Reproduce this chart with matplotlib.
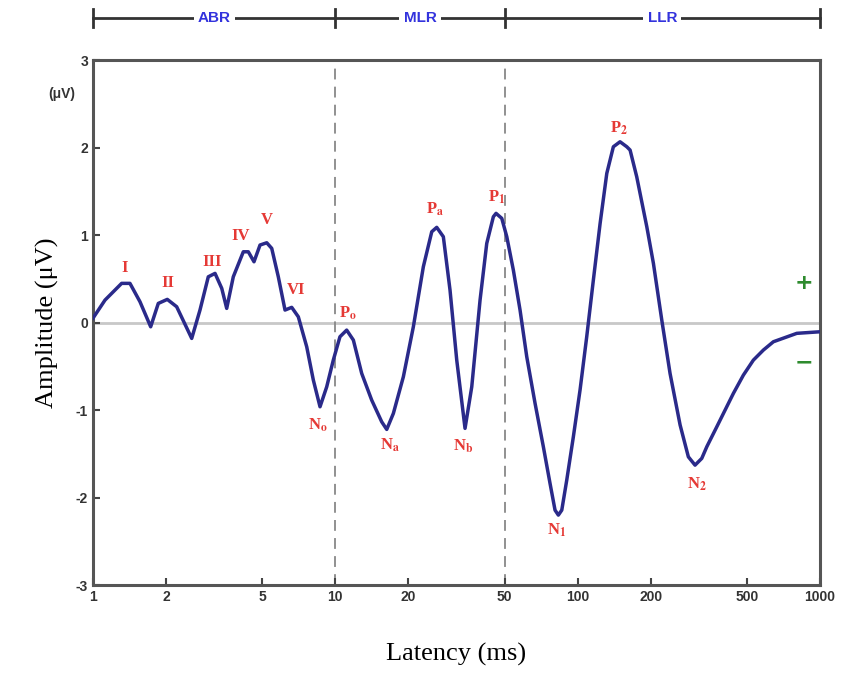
import matplotlib.pyplot as plt
import matplotlib.transforms as mtransforms

plt.rcParams['axes.unicode_minus'] = False
plt.rcParams['mathtext.fontset'] = 'stix'

# waveform: latency (ms) and amplitude (uV)
latency = [1.00, 1.121, 1.313, 1.421, 1.563, 1.730, 1.860, 2.026, 2.215, 2.555,
           2.764, 2.991, 3.189, 3.399, 3.563, 3.793, 4.172, 4.375, 4.618, 4.890,
           5.212, 5.465, 5.818, 6.201, 6.608, 7.036, 7.621, 8.115, 8.647, 9.215,
           9.81, 10.45, 11.14, 11.87, 12.85, 14.13, 15.54, 16.30, 17.36, 19.09,
           20.99, 23.08, 25.0, 26.21, 27.91, 29.74, 31.70, 34.30, 36.56, 39.56,
           42.16, 44.89, 46.05, 48.63, 51.0, 54.28, 57.85, 61.66, 66.72, 72.19,
           76.92, 80.66, 83.25, 86.0, 90.16, 96.0, 102.3, 109.0, 116.1, 123.8,
           131.9, 140.4, 149.6, 159.5, 164.6, 175.3, 192.9, 205.4, 222.4, 240.6,
           264.7, 286.3, 305.1, 325.2, 341.1, 375.1, 439.2, 483.0, 531.0, 584.0,
           642.3, 802.2, 1000.0]
amplitude = [0.05, 0.257, 0.448, 0.448, 0.238, -0.048, 0.219, 0.265, 0.181, -0.181,
             0.143, 0.523, 0.562, 0.391, 0.162, 0.523, 0.809, 0.809, 0.695, 0.886,
             0.912, 0.848, 0.523, 0.143, 0.174, 0.066, -0.277, -0.657, -0.962, -0.734,
             -0.429, -0.162, -0.086, -0.2, -0.581, -0.886, -1.134, -1.221, -1.038, -0.619,
             -0.048, 0.638, 1.038, 1.088, 0.981, 0.371, -0.429, -1.209, -0.734, 0.257,
             0.905, 1.209, 1.248, 1.191, 0.981, 0.6, 0.143, -0.391, -0.923, -1.419,
             -1.838, -2.143, -2.2, -2.143, -1.8, -1.305, -0.771, -0.162, 0.486, 1.134,
             1.705, 2.009, 2.066, 2.009, 1.971, 1.666, 1.095, 0.677, 0.029, -0.581,
             -1.17, -1.534, -1.629, -1.552, -1.419, -1.191, -0.809, -0.6, -0.429, -0.314,
             -0.219, -0.123, -0.105]

# peak names and where their labels sit
peak_names = ['I', 'II', 'III', 'IV', 'V', 'VI', r'P$_\mathbf{o}$', r'N$_\mathbf{o}$',
              r'N$_\mathbf{a}$', r'P$_\mathbf{a}$', r'N$_\mathbf{b}$', r'P$_\mathbf{1}$',
              r'N$_\mathbf{1}$', r'P$_\mathbf{2}$', r'N$_\mathbf{2}$']
peak_lat = [1.355, 2.04, 3.10, 4.08, 5.23, 6.88, 11.3, 8.5, 16.8, 25.8, 33.7, 46.5, 82.2, 148, 312]
peak_amp = [0.62, 0.45, 0.69, 0.99, 1.17, 0.37, 0.11, -1.17, -1.40, 1.30, -1.41, 1.43, -2.37, 2.22, -1.85]

# response bands along the top
bands = ['ABR', 'MLR', 'LLR']
band_edges = [1, 10, 50, 1000]

xticks = [1, 2, 5, 10, 20, 50, 100, 200, 500, 1000]
yticks = [-3, -2, -1, 0, 1, 2, 3]

fig = plt.figure(figsize=(8.43, 6.9), dpi=100)
ax = fig.add_axes([0.1103, 0.152, 0.8624, 0.761])

ax.axhline(0, color='#c8c8c8', lw=2, zorder=1)
for e in band_edges[1:-1]:
    ax.axvline(e, color='#888888', lw=1.3, ls=(0, (6, 4)), zorder=1)

ax.plot(latency, amplitude, color='#2a2a8a', lw=2.5, solid_joinstyle='round', zorder=3)

ax.set_xscale('log')
ax.set_xlim(1, 1000)
ax.set_ylim(-3, 3)
ax.set_xticks(xticks)
ax.set_xticklabels([str(t) for t in xticks])
ax.minorticks_off()
ax.set_yticks(yticks)
ax.tick_params(direction='in', length=5, width=1.5, color='#444444', labelcolor='#333333',
               labelsize=10)
for lab in ax.get_xticklabels() + ax.get_yticklabels():
    lab.set_fontweight('bold')
    lab.set_family('Liberation Sans')
for s in ax.spines.values():
    s.set_color('#555555')
    s.set_linewidth(2.2)

ax.set_xlabel('Latency (ms)', family='Liberation Serif', fontsize=19, labelpad=28)
ax.set_ylabel('Amplitude (\u03bcV)', family='Liberation Serif', fontsize=19, labelpad=12)
ax.text(-0.025, 0.935, '(\u03bcV)', transform=ax.transAxes, ha='right', va='center',
        fontsize=10, fontweight='bold', color='#333333', family='Liberation Sans')

for name, x, y in zip(peak_names, peak_lat, peak_amp):
    ax.text(x, y, name, color='#e53935', fontsize=12, fontweight='bold',
            family='Liberation Serif', ha='center', va='center', zorder=4)

ax.text(860, 0.45, '+', color='#2e8b2e', fontsize=16, fontweight='bold', ha='center', va='center')
ax.text(860, -0.46, '\u2212', color='#2e8b2e', fontsize=16, fontweight='bold', ha='center', va='center')

# bracket across the top
trans = mtransforms.blended_transform_factory(ax.transData, ax.transAxes)
ax.plot([band_edges[0], band_edges[-1]], [1.08, 1.08], color='#333333', lw=2,
        transform=trans, clip_on=False)
for e in band_edges:
    ax.plot([e, e], [1.063, 1.097], color='#333333', lw=2, transform=trans, clip_on=False)
for i, name in enumerate(bands):
    mid = (band_edges[i] * band_edges[i + 1]) ** 0.5
    ax.text(mid, 1.08, name, color='#3333dd', fontsize=11, fontweight='bold',
            family='Liberation Sans', ha='center', va='center', transform=trans,
            bbox=dict(facecolor='white', edgecolor='none', pad=3))

fig.savefig('out.png', dpi=100)
